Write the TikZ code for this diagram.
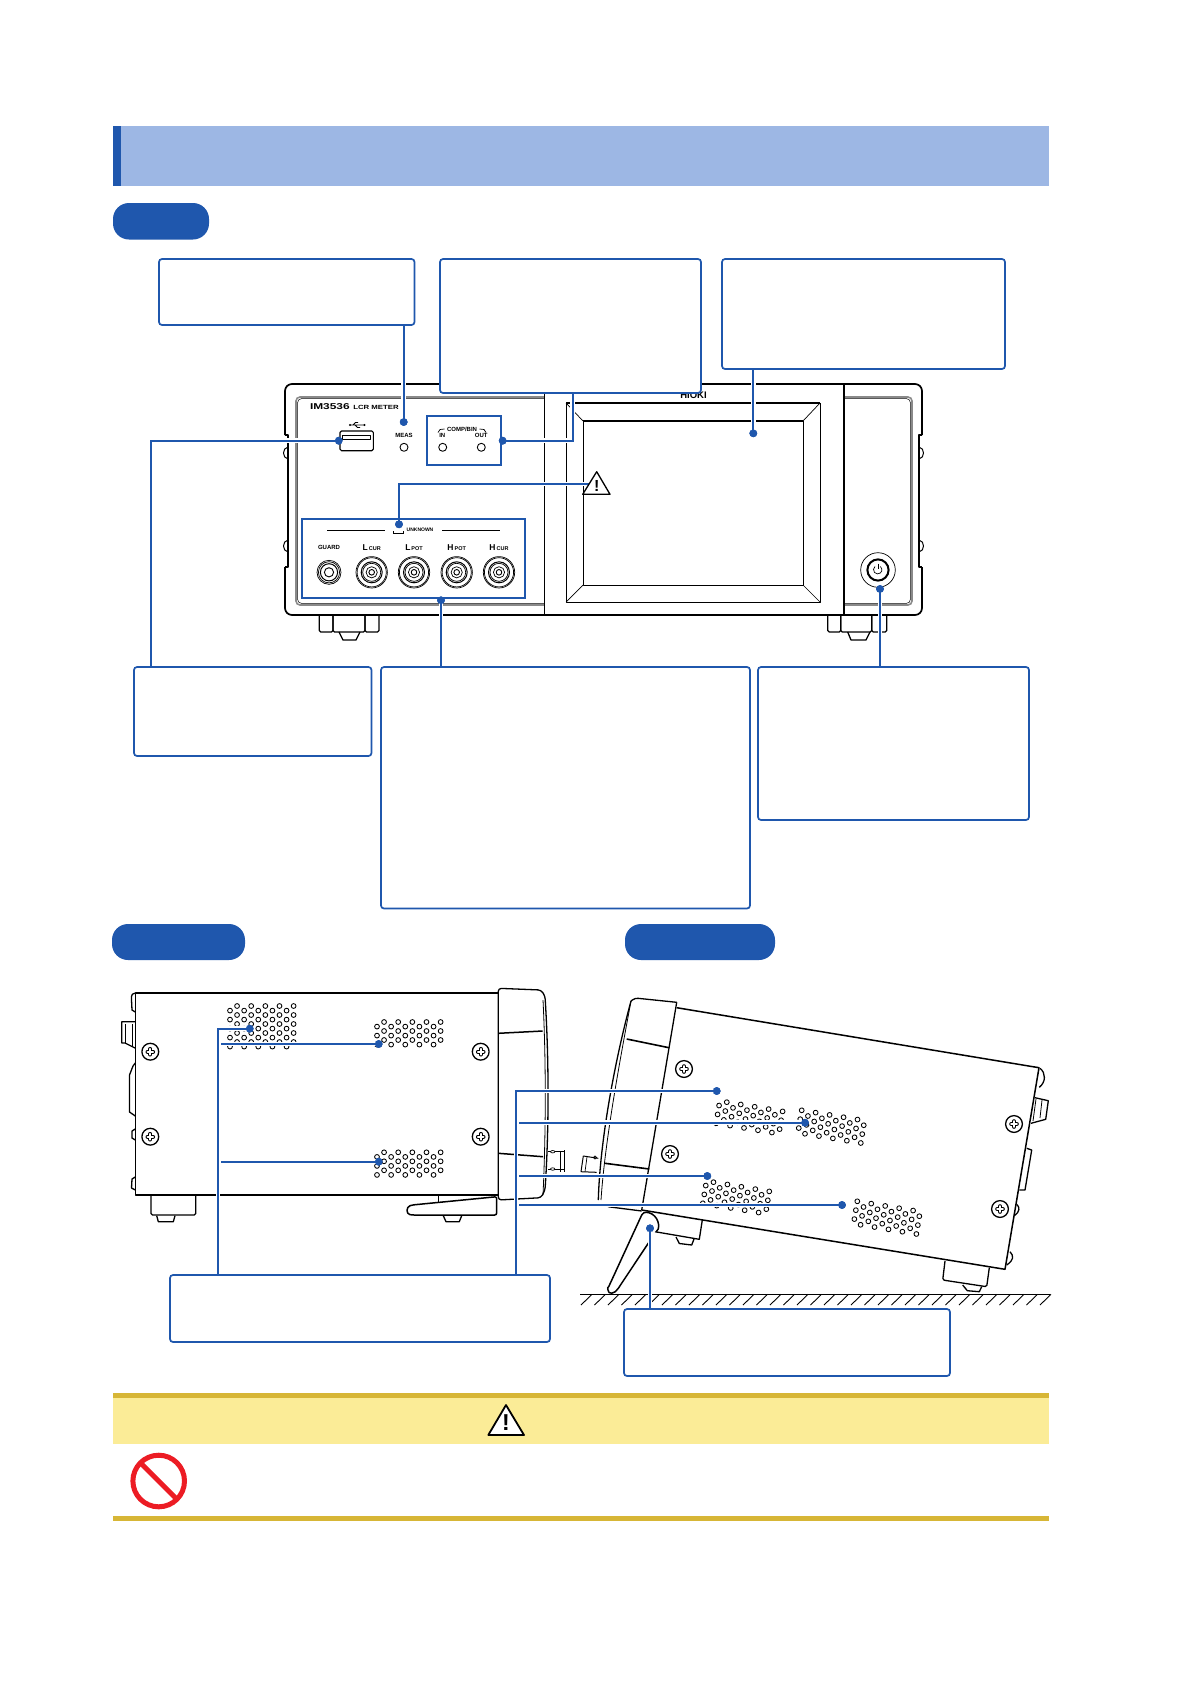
\documentclass[tikz,border=0pt]{standalone}
\usepackage{fontspec}
\usepackage{graphicx}
\setmainfont{Liberation Sans}
\definecolor{hoblue}{HTML}{1F57AD}
\definecolor{hdr}{HTML}{9DB7E4}
\definecolor{cyel}{HTML}{FBEC97}
\definecolor{cgold}{HTML}{D7B636}
\definecolor{cred}{HTML}{EC1C24}
\definecolor{pgray}{HTML}{8A8A8A}
\usetikzlibrary{calc}
\tikzset{
 x=1pt,y=-1pt,
 art/.style={draw=black,line width=1.3pt,line join=round},
 thick art/.style={draw=black,line width=1.7pt,line join=round},
 thin art/.style={draw=black,line width=.7pt},
 callout/.style={draw=hoblue,fill=white,line width=1.7pt,rounded corners=3pt,anchor=north west,inner sep=0pt,outer sep=0pt},
 frame box/.style={draw=hoblue,line width=1.7pt,anchor=north west,inner sep=0pt,outer sep=0pt},
 pill/.style={fill=hoblue,rounded corners=16pt,anchor=north west,inner sep=0pt,outer sep=0pt},
 dotmark/.style={circle,fill=hoblue,minimum size=7.8pt,inner sep=0pt,outer sep=0pt},
 conn/.style={draw=hoblue,line width=1.8pt,preaction={draw=white,line width=4.8pt}},
 lab/.style={font=\bfseries\fontsize{6}{6}\selectfont,inner sep=0pt,outer sep=0pt},
}
\newcommand{\screwmark}[2]{%
 \draw[art,fill=white] (#1,#2) circle[radius=8.4pt];
 \draw[black,line width=4pt,line cap=round] (#1-2.8,#2)--(#1+2.8,#2) (#1,#2-2.8)--(#1,#2+2.8);
 \draw[white,line width=2pt,line cap=round] (#1-2.8,#2)--(#1+2.8,#2) (#1,#2-2.8)--(#1,#2+2.8);
}
\newcommand{\ventgrid}[5]{% x,y,angle,rows,phase
 \begin{scope}[shift={(#1,#2)},rotate=#3]
  \foreach \ci in {0,...,9}{
   \pgfmathsetmacro{\oy}{mod(\ci+#5,2)==0 ? 4.6 : 0}
   \pgfmathtruncatemacro{\lastrow}{#4-1}
   \foreach \rj in {0,...,\lastrow}{
    \draw[black,line width=.85pt] ({\ci*7.07},{\rj*9+\oy}) circle[radius=2.4pt];
   }
  }
 \end{scope}
}
\newcommand{\bncmark}[2]{%
 \draw[thin art] (#1,#2) circle[radius=15.7pt];
 \draw[thin art] (#1,#2) circle[radius=14.6pt];
 \draw[art,line width=1pt] (#1,#2) circle[radius=10.5pt];
 \draw[thin art] (#1,#2) circle[radius=9pt];
 \draw[thin art] (#1,#2) circle[radius=5.6pt];
 \draw[art,line width=.9pt] (#1,#2) circle[radius=2.8pt];
}
\begin{document}
\begin{tikzpicture}
\useasboundingbox (0,0) rectangle (1191,1684);
\fill[white] (0,0) rectangle (1191,1684);
% header
\fill[hdr] (113,125.5) rectangle (1049,186);
\fill[hoblue] (113,125.5) rectangle (121,186);
\node[pill,minimum width=96pt,minimum height=36.5pt] (p1) at (113,203) {};
\node[pill,minimum width=133pt,minimum height=36pt] (p2) at (112,924) {};
\node[pill,minimum width=150pt,minimum height=36pt] (p3) at (625,924) {};

%% ---------- front view
% feet
\foreach \a/\b in {319.3/333,333/365,365/379,827.7/840.7,840.7/871.7,871.7/886.7}{
 \draw[art,rounded corners=1.5pt] (\a,615)--(\a,632)--(\b,632)--(\b,615);
}
\draw[art] (339,632)--(343,640)--(356,640)--(360,632);
\draw[art] (847.7,632)--(851,640)--(866,640)--(870,632);
% outline
\draw[art,line width=1.7pt,rounded corners=7pt] (285,435)--(285,384)--(922,384)--(922,435);
\draw[art,line width=1.7pt,rounded corners=7pt] (285,567)--(285,615)--(922,615)--(922,567);
\draw[art,line width=1.7pt] (285,435)--(288,435)--(288,567)--(285,567) (922,435)--(919,435)--(919,567)--(922,567);
\foreach \yy in {453,546}{
 \draw[art,line width=1pt] (288,\yy-6) .. controls (282,\yy-5) and (282,\yy+5) .. (288,\yy+6);
 \draw[art,line width=1pt] (919,\yy-6) .. controls (925,\yy-5) and (925,\yy+5) .. (919,\yy+6);
}
% inner panel
\draw[pgray,line width=1.6pt,rounded corners=4pt] (544,397)--(296,397)--(296,605)--(544,605);
\draw[black,line width=.5pt,rounded corners=4pt] (544,398.6)--(297.6,398.6)--(297.6,603.4)--(544,603.4);
\draw[pgray,line width=1.6pt,rounded corners=4pt] (844,397)--(912,397)--(912,605)--(844,605);
\draw[black,line width=.5pt,rounded corners=4pt] (844,398.6)--(910.4,398.6)--(910.4,603.4)--(844,603.4);
% dividers and screen
\draw[art,line width=1pt] (544,384)--(544,615);
\draw[thick art,line width=2.2pt] (844,384)--(844,615);
\draw[art,line width=.9pt] (566,403)--(566,602)--(820,602)--(820,403);
\draw[art,line width=.9pt] (583,421)--(583,585)--(803,585)--(803,421);
\draw[art,line width=1.5pt] (566,403)--(820,403) (583,421)--(803,421);
\draw[thin art] (566,403)--(583,421) (820,403)--(803,421) (820,602)--(803,585) (566,602)--(583,585);
% texts on the panel
\node[lab,anchor=west] (tim) at (310,406.7) {\scalebox{1.4}[1]{\fontsize{8.5}{8.5}\selectfont IM3536}};
\node[lab,anchor=west] (tlcr) at (353.3,407) {\scalebox{1.3}[1]{\fontsize{6}{6}\selectfont LCR METER}};
\node[lab,font=\bfseries\fontsize{9.5}{9.5}\selectfont] (thioki) at (693.5,395.5) {HIOKI};
\node[lab] (tmeas) at (404,435) {MEAS};
\node[lab] (tcomp) at (462,429) {COMP/BIN};
\node[lab] (tin) at (442.3,435.3) {IN};
\node[lab] (tout) at (481.3,435.3) {OUT};
\draw[thin art] (438,432.5) -- (440,429.5) -- (444.5,429) (479.5,429) -- (484,429.5) -- (486,432.5);
\node[lab,font=\bfseries\fontsize{5}{5}\selectfont] (tunk) at (420,529.7) {UNKNOWN};
\draw[art,line width=1pt] (327.3,530.3)--(385,530.3) (442.3,530.3)--(500,530.3);
\draw[thin art,line width=.5pt] (393.5,531)--(393.5,533)--(403,533)--(403,531);
\node[lab] (tguard) at (329,547.7) {GUARD};
\node[lab] (tlc) at (371.7,547.3) {{\fontsize{8.5}{8.5}\selectfont L}\,{\fontsize{5.5}{5.5}\selectfont CUR}};
\node[lab] (tlp) at (414,547.3) {{\fontsize{8.5}{8.5}\selectfont L}\,{\fontsize{5.5}{5.5}\selectfont POT}};
\node[lab] (thp) at (456.7,547.3) {{\fontsize{8.5}{8.5}\selectfont H}\,{\fontsize{5.5}{5.5}\selectfont POT}};
\node[lab] (thc) at (499,547.3) {{\fontsize{8.5}{8.5}\selectfont H}\,{\fontsize{5.5}{5.5}\selectfont CUR}};
% LEDs
\foreach \xx in {404,442.7,481.3}{\draw[art,line width=.9pt] (\xx,447.3) circle[radius=4pt];}
% USB
\draw[art,line width=1.1pt,rounded corners=1.5pt] (340,431)--(373.3,431)--(373.3,450.7)--(340,450.7)--cycle;
\draw[art,line width=.8pt] (342.7,435.3) rectangle (370.7,439.3);
\draw[art,line width=.8pt] (350,425)--(364,425) (353,425)--(355.5,422.5)--(358,422.5) (355,425)--(357.5,427.5)--(360,427.5);
\fill (350,425) circle[radius=1.2pt];
\fill (364.5,425) circle[radius=1.2pt];
% sockets
\draw[thin art] (329,572.3) circle[radius=12pt];
\draw[thin art] (329,572.3) circle[radius=10.6pt];
\draw[art,line width=1pt] (329,572.3) circle[radius=8.6pt];
\draw[thin art,line width=.9pt] (329,572.3) circle[radius=4.6pt];
\bncmark{371.7}{572.3}
\bncmark{414}{572.3}
\bncmark{456.7}{572.3}
\bncmark{499}{572.3}
% power
\draw[thin art] (878,570) circle[radius=17.3pt];
\draw[art,line width=2pt] (878,570) circle[radius=10.6pt];
\draw[thin art,line width=.7pt] (875,566.5) arc[start angle=130,end angle=410,radius=4.2pt];
\draw[thin art,line width=.7pt] (878,563.5)--(878,569);

%% ---------- side view (left)
\draw[art] (131.5,1000) .. controls (131,994) and (133,993) .. (135.3,993);
\draw[art] (131.5,1000)--(132,1010)--(135.3,1012);
\draw[art] (135.3,1129)--(132,1131)--(132,1138)--(135.3,1140);
\draw[art] (135.3,1177)--(132,1179)--(131.5,1188)--(135.3,1190);
\draw[art] (135,1021.7)--(121.7,1021.7)--(121.7,1043)--(125,1043)--(135,1048);
\draw[art,line width=.8pt] (125,1024)--(125,1043) (132,1024)--(132,1046);
\draw[art] (135.3,1063)--(133,1066)--(129.5,1075)--(129.5,1112)--(135.3,1116);
% feet
\draw[art,rounded corners=1.5pt] (151,1195)--(151,1215)--(195.7,1215)--(195.7,1195);
\draw[art] (156.7,1215.7)--(158.3,1221.7)--(173.3,1221.7)--(175,1215.7);
\draw[art] (438.3,1195)--(438.3,1205);
\draw[art] (443.3,1215.7)--(446,1221.7)--(459.3,1221.7)--(461.7,1215.7);
% body
\draw[art,line width=1.6pt,fill=white] (135.3,993) rectangle (498.3,1195);
% bezel
\draw[art,fill=white,rounded corners=3pt] (498.3,988.3)--(541,990)--(545,996) .. controls (549,1060) and (549,1130) .. (545,1190)--(541,1197.7)--(498.3,1200)--cycle;
\draw[art,line width=.8pt] (543,1000) .. controls (546,1060) and (546,1130) .. (543,1195);
\draw[art,line width=1.5pt] (498.3,1033.3)--(542.7,1031) (498.3,1153.3)--(543,1156.7);
% small connector at front
\draw[art,line width=.6pt] (548,1151.7)--(564,1151.7) (548,1169)--(564,1169);
\draw[art,line width=.7pt,fill=white] (552.7,1151.7) ellipse[x radius=2.2pt,y radius=1.2pt];
\draw[art,line width=.7pt,fill=white] (552.7,1169) ellipse[x radius=2.2pt,y radius=1.2pt];
\draw[art,line width=.9pt] (564,1150)--(564,1172) (560,1151)--(560,1172);
% stand
\draw[art,fill=white,line width=1.5pt,rounded corners=2pt] (496.7,1196.7)--(412,1205) .. controls (406,1207) and (406,1214) .. (412,1215)--(496.7,1215)--cycle;
\screwmark{150.3}{1051.7}
\screwmark{150.3}{1136.7}
\screwmark{480.7}{1051.7}
\screwmark{480.7}{1136.7}
\ventgrid{230}{1006}{0}{5}{0}
\ventgrid{377}{1022}{0}{3}{0}
\ventgrid{377}{1152.3}{0}{3}{0}

%% ---------- tilted view (right)
% feet
\draw[art,fill=white] (702.3,1220)--(699.3,1239.3)--(655,1231.7);
\draw[art] (676,1237)--(679.3,1243.5)--(691.7,1245)--(694,1239);
\draw[art,rounded corners=1.5pt] (945,1261)--(942.7,1280)--(986.7,1286.7)--(989.3,1267.7);
\draw[art] (962.7,1285)--(967.3,1290.7)--(979.3,1291.7)--(981.7,1286.7);
% body
\draw[art,line width=1.5pt] (676.7,1007.7)--(1039,1067.7)--(1005,1269.3)--(641.7,1210);
% bezel
\draw[art,rounded corners=3pt] (676.7,1002.3)--(635,998)--(631,1001);
\draw[art] (631,1001) .. controls (615,1060) and (600,1140) .. (598.3,1200);
\draw[art,line width=.8pt] (631,1001) .. controls (620,1060) and (605,1140) .. (601,1200);
\draw[art,line width=1.3pt] (676.7,1002.3)--(641.7,1210);
\draw[art] (608,1206.7)--(641.7,1211);
\draw[art,line width=1.6pt] (626.7,1039)--(669,1047.7) (605,1163.3)--(649.3,1169);
% rear bits
\draw[art] (1040,1068.3) .. controls (1046,1073) and (1046,1082) .. (1039.3,1087.3);
\draw[art] (1035,1097.7)--(1048.3,1100.7)--(1045.7,1119.3)--(1031,1123.3);
\draw[art,line width=.8pt] (1036,1099)--(1033,1121) (1042,1100)--(1040,1118);
\draw[art] (1026.7,1148.3)--(1031.7,1150)--(1025,1190)--(1019.3,1190);
\draw[art] (1016.7,1204.3) .. controls (1020,1207) and (1020,1212) .. (1014.3,1215.7);
\draw[art] (1010,1251.7) .. controls (1014,1256) and (1014,1260) .. (1006.7,1265);
% front connector
\draw[art,line width=1pt] (598.3,1158.3)--(583.3,1156)--(581,1171.7)--(596.7,1172.3);
\draw[art,line width=.7pt] (587,1157)--(585,1171.7);
\draw[art,line width=.7pt] (595,1157.5) circle[radius=1.6pt];
% stand
\draw[art,fill=white,line width=1.5pt] (641.7,1215) .. controls (644,1211) and (648,1212) .. (652,1214) .. controls (660,1219) and (660,1230) .. (656,1232)
  (649.3,1241.7)--(618.3,1288.3) .. controls (615,1294) and (608,1295) .. (608,1290) .. controls (607,1288) and (608,1287) .. (608.7,1286.7)--(641.7,1215);
\screwmark{684}{1069}
\screwmark{670}{1154}
\screwmark{1014}{1124}
\screwmark{1000}{1209}
\ventgrid{719.8}{1101}{-9.4}{3}{0}
\ventgrid{801.7}{1110.3}{-9.4}{3}{1}
\ventgrid{706.5}{1181}{-9.4}{3}{0}
\ventgrid{857.3}{1201.3}{-9.4}{3}{1}
% ground
\draw[art] (580,1294.3)--(1050,1294.3);
\foreach \hx in {592,605.5,...,1051}{\draw[art,line width=.9pt] (\hx,1294.3)--(\hx-11,1305);}

%% ---------- dots as nodes (positions for connectors)
\node[dotmark] (dmeas) at (403.7,422) {};
\node[dotmark] (dusb) at (338.7,440.7) {};
\node[dotmark] (dcomp) at (502.7,440.7) {};
\node[dotmark] (dunk) at (399,524.3) {};
\node[dotmark] (dbnc) at (441,600.3) {};
\node[dotmark] (dscr) at (753.3,433.3) {};
\node[dotmark] (dpow) at (880,589) {};
\node[dotmark] (da) at (249.7,1028.7) {};
\node[dotmark] (db) at (378.7,1044) {};
\node[dotmark] (dc) at (378.7,1161.7) {};
\node[dotmark] (dd) at (716.7,1091) {};
\node[dotmark] (de) at (805,1122.7) {};
\node[dotmark] (df) at (707.3,1176) {};
\node[dotmark] (dg) at (842,1205) {};
\node[dotmark] (dst) at (650,1228.3) {};
% named free ends
\coordinate (cusb) at (151,667);
\coordinate (ccomp) at (572.7,393);
\coordinate (cwarn) at (590,484);
\coordinate (cb) at (221,1044);
\coordinate (cc) at (221,1161.7);
\coordinate (cl) at (218,1275);
\coordinate (cr) at (516,1275);
\coordinate (ce) at (519,1122.7);
\coordinate (cf) at (519,1176);
\coordinate (cg) at (519,1205);

%% ---------- connectors
\draw[conn] (dmeas.center)--(403.7,325);
\draw[conn] (dusb.center) -| (cusb);
\draw[conn] (dcomp.center) -| (ccomp);
\draw[conn] (cwarn) -| (dunk.center);
\draw[conn] (dbnc.center)--(441,667);
\draw[conn] (dscr.center)--(753.3,369);
\draw[conn] (dpow.center)--(880,667);
\draw[conn] (da.center) -| (cl);
\draw[conn] (db.center)--(cb);
\draw[conn] (dc.center)--(cc);
\draw[conn] (dd.center) -| (cr);
\draw[conn] (de.center)--(ce);
\draw[conn] (df.center)--(cf);
\draw[conn] (dg.center)--(cg);
\draw[conn] (dst.center)--(650,1309);

% device warning triangle
\draw[art,fill=white,line width=1.3pt] (596.7,471.7)--(610,494.3)--(582.7,494.3)--cycle;
\node[lab,font=\bfseries\fontsize{16}{16}\selectfont] (wex) at (596.7,485.5) {!};

%% ---------- callouts
\node[callout,minimum width=255.5pt,minimum height=66pt] (b1) at (159,259) {};
\node[callout,minimum width=261pt,minimum height=134pt] (b2) at (440,259) {};
\node[callout,minimum width=283pt,minimum height=110pt] (b3) at (722,259) {};
\node[callout,minimum width=237.5pt,minimum height=89pt] (b4) at (134,667) {};
\node[callout,minimum width=369pt,minimum height=241.5pt] (b5) at (381,667) {};
\node[callout,minimum width=271pt,minimum height=153pt] (b6) at (758,667) {};
\node[callout,minimum width=380pt,minimum height=67pt] (b7) at (170,1275) {};
\node[callout,minimum width=326pt,minimum height=67pt] (b8) at (624,1309) {};
\node[frame box,minimum width=74.3pt,minimum height=49.3pt] (fcomp) at (426.7,415.7) {};
\node[frame box,minimum width=222.7pt,minimum height=79pt] (funk) at (302.3,519) {};

%% redraw dots on top
\foreach \n in {dmeas,dusb,dcomp,dunk,dbnc,dscr,dpow,da,db,dc,dd,de,df,dg,dst}{
 \fill[hoblue] (\n.center) circle[radius=3.9pt];
}

%% ---------- caution
\fill[cyel] (113,1397) rectangle (1049,1444.3);
\fill[cgold] (113,1393) rectangle (1049,1397.5);
\fill[cgold] (113,1516) rectangle (1049,1520.7);
\draw[art,fill=white,line width=1.8pt] (506,1405)--(524,1435)--(488.3,1435)--cycle;
\node[lab,font=\bfseries\fontsize{23}{23}\selectfont] (cex) at (506,1423) {!};
\draw[cred,line width=5pt] (158.7,1481) circle[radius=25.8pt];
\draw[cred,line width=5pt] (140.5,1462.8)--(176.9,1499.2);
\end{tikzpicture}
\end{document}
